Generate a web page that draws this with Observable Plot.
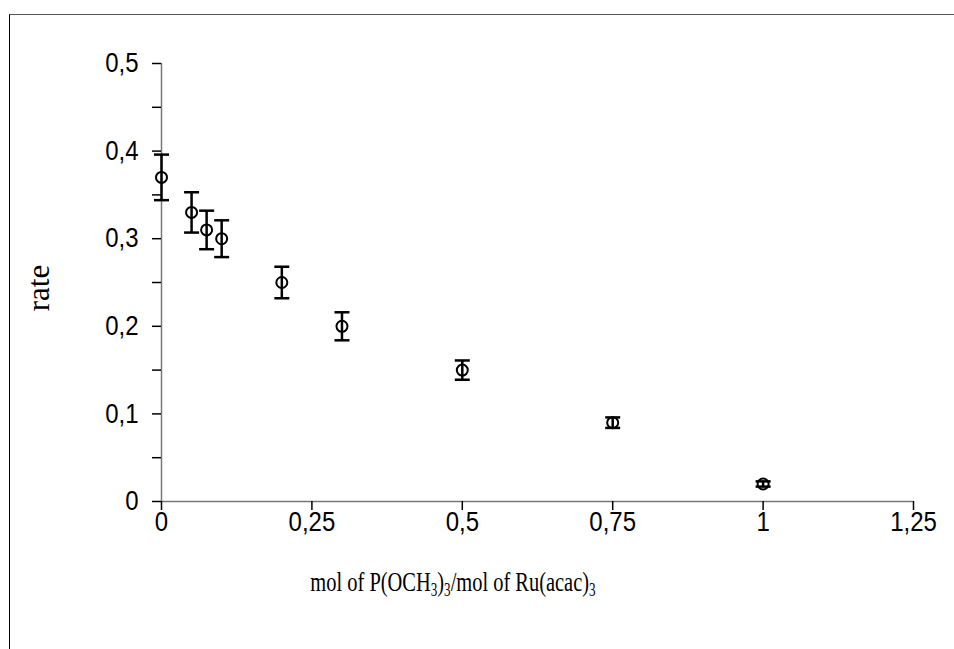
<!DOCTYPE html>
<html>
<head>
<meta charset="utf-8">
<script src="https://cdn.jsdelivr.net/npm/d3@7"></script>
<script src="https://cdn.jsdelivr.net/npm/@observablehq/plot@0.6"></script>
<style>
  html, body { margin: 0; padding: 0; background: #fff; overflow: hidden; }
  #wrap { position: relative; width: 954px; height: 649px; }
  #frame { position: absolute; left: 9px; top: 14px; width: 1000px; height: 700px;
           border-top: 1px solid #555; border-left: 1.5px solid #000; box-sizing: border-box; }
  #chart { position: absolute; left: 0; top: 0; }
</style>
</head>
<body>
<div id="wrap"><div id="frame"></div><div id="chart"></div></div>
<script>
const ratio = [0, 0.05, 0.075, 0.1, 0.2, 0.3, 0.5, 0.75, 1];
const rate  = [0.37, 0.33, 0.31, 0.30, 0.25, 0.20, 0.15, 0.09, 0.02];
const err   = [0.026, 0.023, 0.022, 0.021, 0.018, 0.016, 0.011, 0.006, 0.003];
const xTicks = [0, 0.25, 0.5, 0.75, 1, 1.25];
const yTicks = [0, 0.1, 0.2, 0.3, 0.4, 0.5];
const yMinor = [0.05, 0.15, 0.25, 0.35, 0.45];

const data = ratio.map((x, i) => ({x, y: rate[i], lo: rate[i] - err[i], hi: rate[i] + err[i]}));
const fmt = d => String(d).replace(".", ",");
const cap = {draw(ctx, size) { const r = Math.sqrt(size / Math.PI); ctx.moveTo(-r, 0); ctx.lineTo(r, 0); }};

const plot = Plot.plot({
  width: 954, height: 649,
  marginLeft: 161, marginRight: 41, marginTop: 63, marginBottom: 148,
  style: {fontFamily: "'Liberation Sans', Arial, sans-serif", fontSize: "24px", color: "#000", background: "transparent"},
  x: {domain: [0, 1.25]},
  y: {domain: [0, 0.5]},
  marks: [
    Plot.ruleY([0], {stroke: "#777", strokeWidth: 1.5}),
    Plot.ruleX([0], {stroke: "#777", strokeWidth: 1.5}),
    Plot.axisX({ticks: xTicks, tickFormat: fmt, tickSize: 9, tickPadding: 1, strokeWidth: 1.5, label: null}),
    Plot.axisY({ticks: yTicks, tickFormat: fmt, tickSize: 9, tickPadding: 14, strokeWidth: 1.5, label: null}),
    Plot.axisY({ticks: yMinor, tickFormat: () => "", tickSize: 9, strokeWidth: 1.5, label: null}),
    Plot.ruleX(data, {x: "x", y1: "lo", y2: "hi", stroke: "#000", strokeWidth: 2.5}),
    Plot.dot(data, {x: "x", y: "hi", symbol: cap, r: 7.5, stroke: "#000", strokeWidth: 2.5, fill: "none"}),
    Plot.dot(data, {x: "x", y: "lo", symbol: cap, r: 7.5, stroke: "#000", strokeWidth: 2.5, fill: "none"}),
    Plot.dot(data, {x: "x", y: "y", r: 5.5, stroke: "#000", strokeWidth: 2, fill: "none"})
  ]
});

const svg = d3.select(plot);
svg.selectAll('g[aria-label$="tick label"]').attr("font-size", 24).attr("font-family", "'Liberation Sans', Arial, sans-serif");
svg.selectAll('g[aria-label$="tick label"] text').each(function() {
  this.setAttribute("transform", (this.getAttribute("transform") || "") + " scale(1,1.12)");
});
// y axis title
svg.append("text")
  .attr("transform", "translate(49,288) rotate(-90)")
  .attr("text-anchor", "middle")
  .attr("font-family", "'Liberation Serif', 'Times New Roman', serif")
  .attr("font-size", 31)
  .attr("fill", "#000")
  .text("rate");
// x axis title with subscripts
const t = svg.append("text")
  .attr("transform", "translate(453,591) scale(0.73,1)")
  .attr("text-anchor", "middle")
  .attr("font-family", "'Liberation Serif', 'Times New Roman', serif")
  .attr("font-size", 28)
  .attr("fill", "#000");
const parts = [["mol of P(OCH", false], ["3", true], [")", false], ["3", true], ["/mol of Ru(acac)", false], ["3", true]];
parts.forEach(([s, sub], i) => {
  const ts = t.append("tspan").text(s);
  if (sub) ts.attr("font-size", 18).attr("dy", 5);
  else if (i > 0) ts.attr("dy", -5);
});

document.getElementById("chart").appendChild(plot);
</script>
</body>
</html>
